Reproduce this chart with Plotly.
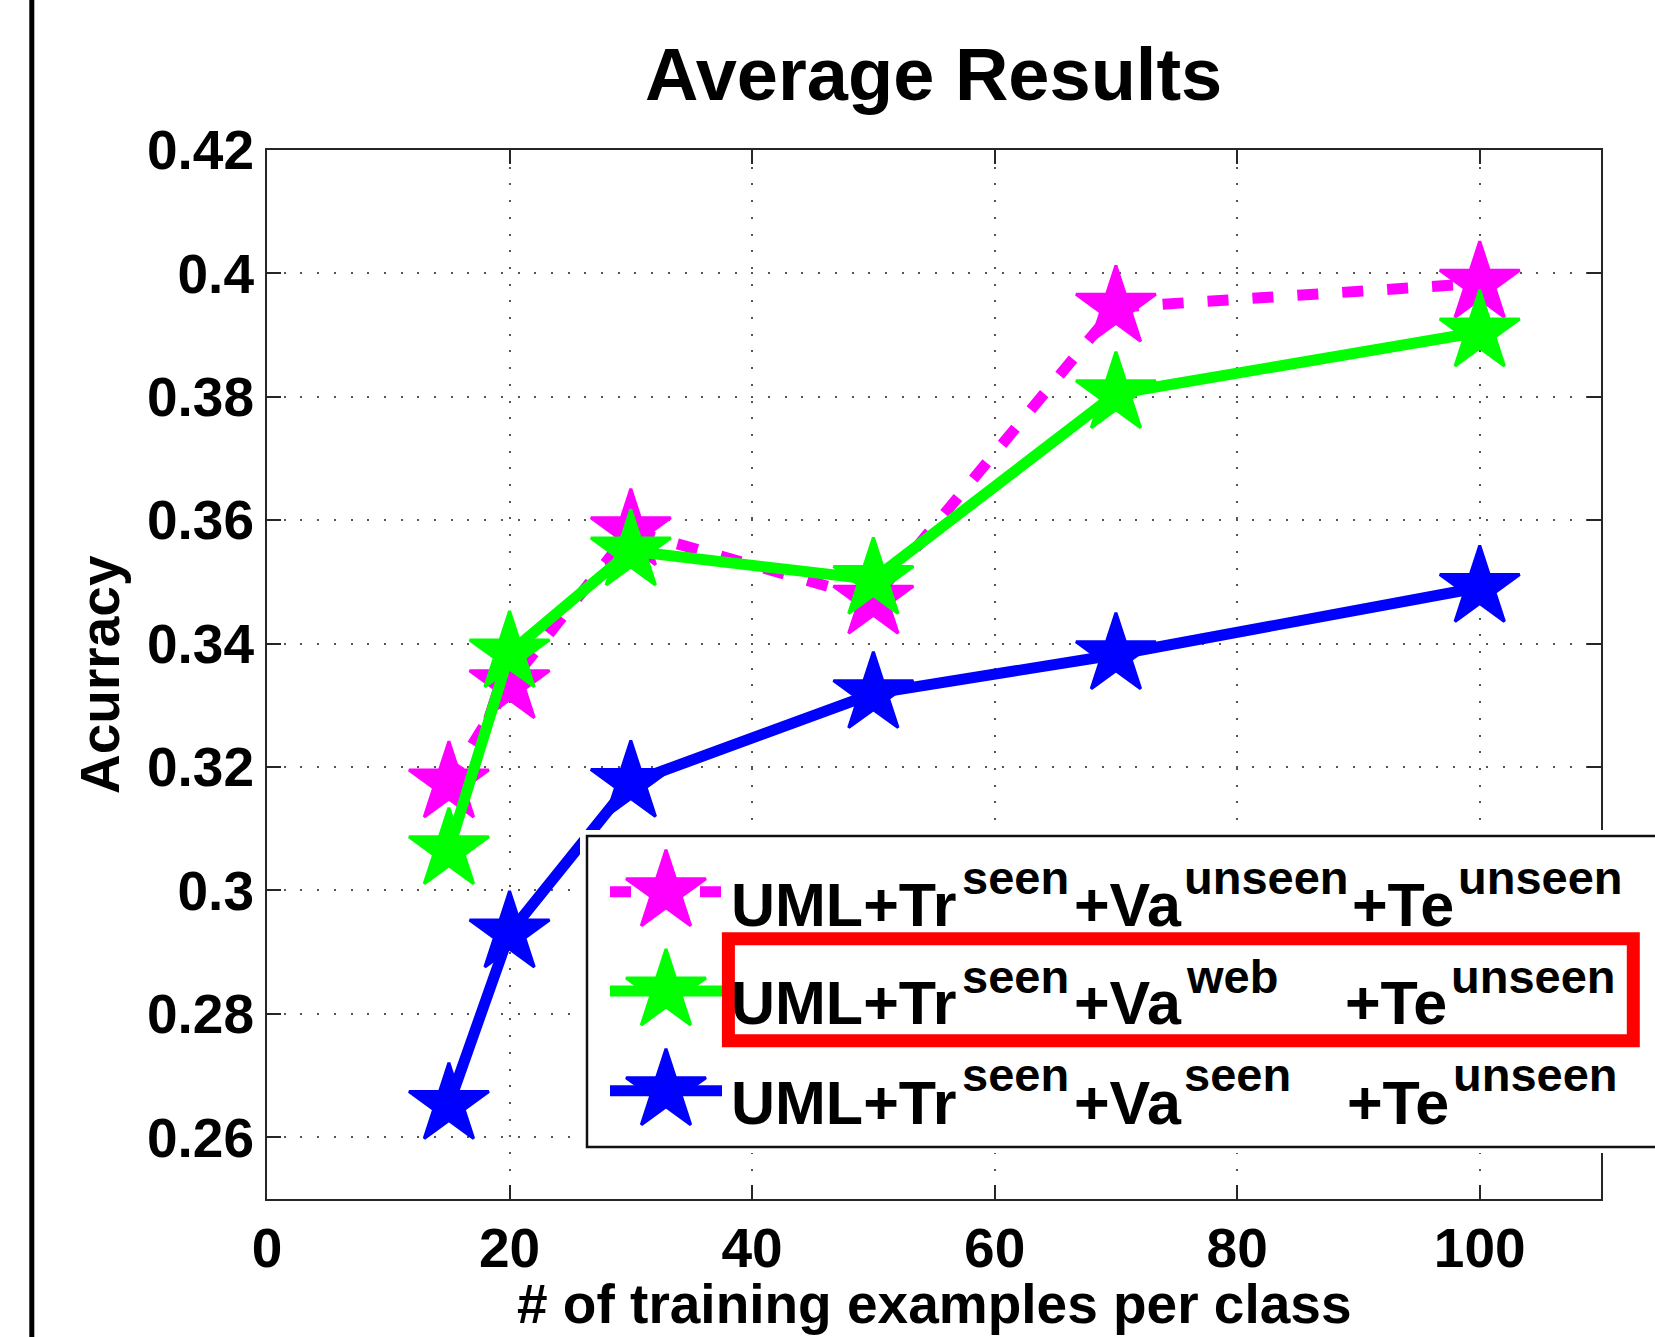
import plotly.graph_objects as go

# ---------------- data ----------------
train_examples = [15, 20, 30, 50, 70, 100]
acc_va_unseen = [0.3174, 0.3335, 0.3583, 0.3472, 0.3945, 0.3984]
acc_va_web = [0.3066, 0.3385, 0.3550, 0.3504, 0.3805, 0.3905]
acc_va_seen = [0.2653, 0.2931, 0.3175, 0.3319, 0.3382, 0.3491]

x_ticks = [0, 20, 40, 60, 80, 100]
y_ticks = [0.26, 0.28, 0.30, 0.32, 0.34, 0.36, 0.38, 0.40, 0.42]
y_ticklabels = ["0.26", "0.28", "0.3", "0.32", "0.34", "0.36", "0.38", "0.4", "0.42"]

series_colors = ["#FF00FF", "#00FF00", "#0000FF"]
series_dash = ["21px,24px", "solid", "solid"]

# legend label pieces: (text, is_superscript)
legend_rows = [
    [("UML+Tr", False), ("seen", True), ("+Va", False), ("unseen", True), ("+Te", False), ("unseen", True)],
    [("UML+Tr", False), ("seen", True), ("+Va", False), ("web", True), ("+Te", False), ("unseen", True)],
    [("UML+Tr", False), ("seen", True), ("+Va", False), ("seen", True), ("+Te", False), ("unseen", True)],
]

title_text = "Average Results"
x_title = "# of training examples per class"
y_title = "Acurracy"

# ---------------- layout geometry (pixels) ----------------
W, H = 1655, 1337
ML, MR, MT, MB = 267, 0, 150, 138
PW, PH = W - ML - MR, H - MT - MB
PLOT_RIGHT = 1601
FONT = "Liberation Sans, Arial, Helvetica, sans-serif"


def fx(px):
    return (px - ML) / PW


def fy(py):
    return (H - MB - py) / PH


fig = go.Figure()

for ys, col, dash in zip([acc_va_unseen, acc_va_web, acc_va_seen], series_colors, series_dash):
    fig.add_trace(go.Scatter(
        x=train_examples, y=ys, mode="lines+markers",
        line=dict(color=col, width=11, dash=dash),
        marker=dict(symbol="star", size=60, color=col, line=dict(color=col, width=3)),
        showlegend=False, xaxis="x", yaxis="y", cliponaxis=False,
    ))

# ---------------- custom legend (own subplot in pixel units) ----------------
LEG_X0, LEG_Y0, LEG_Y1 = 587, 836, 1147
row_centers = [891.7, 991.0, 1090.7]
sym_x0, sym_x1, sym_xc = 610, 722, 666
for rc, col, dash in zip(row_centers, series_colors, series_dash):
    fig.add_trace(go.Scatter(
        x=[sym_x0, sym_x1], y=[rc, rc], mode="lines",
        line=dict(color=col, width=11, dash=dash),
        showlegend=False, xaxis="x2", yaxis="y2", hoverinfo="skip",
    ))
    fig.add_trace(go.Scatter(
        x=[sym_xc], y=[rc], mode="markers",
        marker=dict(symbol="star", size=60, color=col, line=dict(color=col, width=3)),
        showlegend=False, xaxis="x2", yaxis="y2", hoverinfo="skip", cliponaxis=False,
    ))

shapes = [
    dict(type="rect", xref="x2", yref="y2", x0=LEG_X0, x1=1700, y0=LEG_Y0, y1=LEG_Y1,
         line=dict(color="#111111", width=2.5), fillcolor="white", layer="below"),
    dict(type="rect", xref="paper", yref="paper", x0=fx(728.4), x1=fx(1633.3),
         y0=fy(1040.7), y1=fy(938.7), line=dict(color="#FF0000", width=13),
         fillcolor="rgba(0,0,0,0)", layer="above"),
    dict(type="line", xref="paper", yref="paper", x0=fx(31.8), x1=fx(31.8),
         y0=fy(H + 10), y1=fy(-10), line=dict(color="black", width=5), layer="above"),
]

MAIN_SIZE, SUP_SIZE = 61, 47
row_xpos = [
    [731, 961.5, 1073.5, 1184, 1351.5, 1458],
    [731, 961.5, 1073.5, 1186, 1344.5, 1451],
    [731, 961.5, 1073.5, 1183.5, 1346.5, 1453],
]
main_baselines = [926, 1024, 1124]
sup_baselines = [894, 993, 1091]

annotations = []
for r, pieces in enumerate(legend_rows):
    for (txt, sup), xp in zip(pieces, row_xpos[r]):
        size = SUP_SIZE if sup else MAIN_SIZE
        base = sup_baselines[r] if sup else main_baselines[r]
        yc = base - 0.3465 * size
        annotations.append(dict(
            text="<b>" + txt + "</b>", x=fx(xp), y=fy(yc), xref="paper", yref="paper",
            xanchor="left", yanchor="middle", showarrow=False,
            font=dict(family=FONT, size=size, color="black"),
            borderpad=0, borderwidth=0,
        ))

annotations.append(dict(
    text="<b>" + title_text + "</b>", x=fx(933), y=fy(100 - 0.3465 * 74),
    xref="paper", yref="paper", xanchor="center", yanchor="middle", showarrow=False,
    font=dict(family=FONT, size=74, color="black"), borderpad=0, borderwidth=0,
))
annotations.append(dict(
    text="<b>" + x_title + "</b>", x=fx(934), y=fy(1323.3 - 0.3465 * 55),
    xref="paper", yref="paper", xanchor="center", yanchor="middle", showarrow=False,
    font=dict(family=FONT, size=55, color="black"), borderpad=0, borderwidth=0,
))
annotations.append(dict(
    text="<b>" + y_title + "</b>", x=fx(100), y=fy(675), textangle=-90,
    xref="paper", yref="paper", xanchor="center", yanchor="middle", showarrow=False,
    font=dict(family=FONT, size=55, color="black"), borderpad=0, borderwidth=0,
))

axis_common = dict(
    showline=True, mirror="ticks", linecolor="#262626", linewidth=2,
    ticks="inside", ticklen=14, tickwidth=2, tickcolor="#262626",
    showgrid=True, gridcolor="#555555", gridwidth=1.8, griddash="2px,14.7px",
    zeroline=False, tickfont=dict(family=FONT, size=55, color="black", weight="bold"),
    fixedrange=True,
)

fig.update_layout(
    width=W, height=H,
    margin=dict(l=ML, r=MR, t=MT, b=MB, autoexpand=False),
    paper_bgcolor="white", plot_bgcolor="white",
    showlegend=False,
    xaxis=dict(domain=[0, fx(PLOT_RIGHT)], range=[0, 110], tickmode="array",
               tickvals=x_ticks, ticktext=[str(v) for v in x_ticks],
               ticklabelstandoff=0, anchor="y", **axis_common),
    yaxis=dict(domain=[0, 1], range=[0.25, 0.42], tickmode="array",
               tickvals=y_ticks, ticktext=y_ticklabels, ticklabelstandoff=0,
               anchor="x", **axis_common),
    xaxis2=dict(domain=[fx(580), 1.0], range=[580, W], visible=False, anchor="y2",
                fixedrange=True),
    yaxis2=dict(domain=[fy(1153), fy(830)], range=[1153, 830], visible=False, anchor="x2",
                fixedrange=True),
    shapes=shapes,
    annotations=annotations,
)

fig.write_html("out.html")
